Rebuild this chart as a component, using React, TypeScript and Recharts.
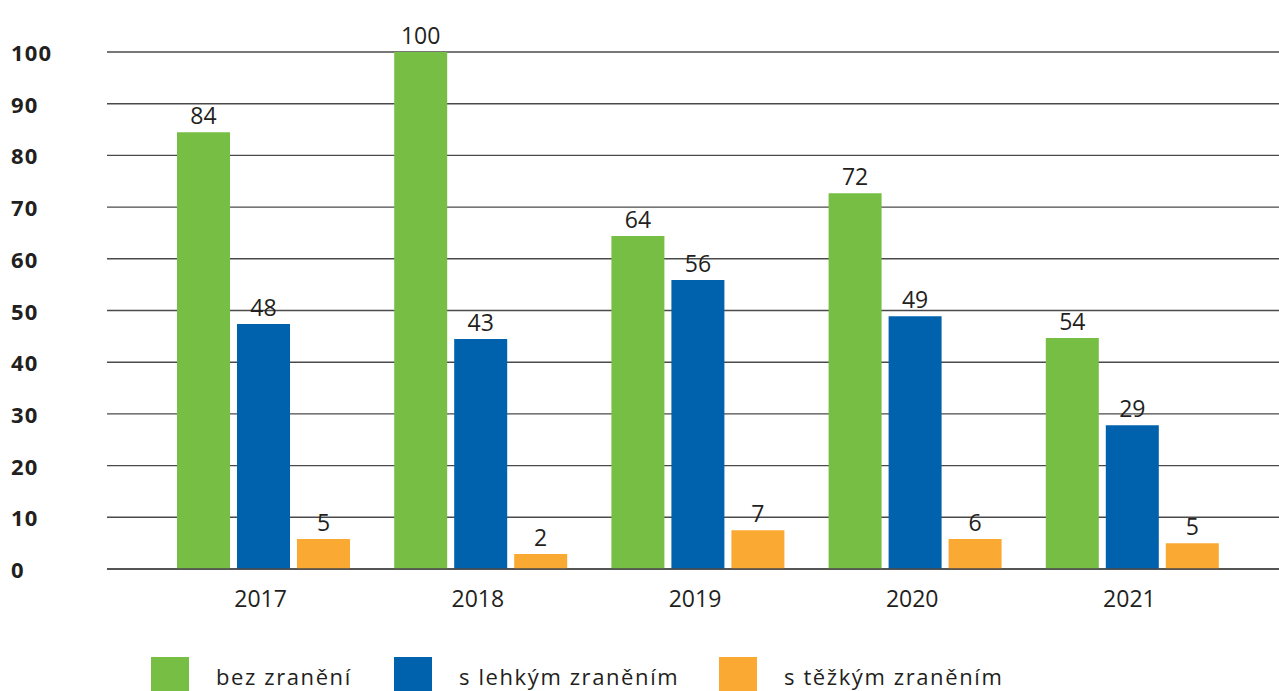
import React from "react";
import {
  BarChart,
  Bar,
  XAxis,
  YAxis,
  CartesianGrid,
  LabelList,
} from "recharts";

const years = ["2017", "2018", "2019", "2020", "2021"];

// bar heights as drawn
const bezZraneni = [84.5, 100, 64.4, 72.7, 44.7];
const lehkym = [47.4, 44.5, 55.9, 48.9, 27.8];
const tezkym = [5.8, 2.9, 7.5, 5.8, 5.0];

// printed labels above the bars
const bezZraneniLabels = [84, 100, 64, 72, 54];
const lehkymLabels = [48, 43, 56, 49, 29];
const tezkymLabels = [5, 2, 7, 6, 5];

const yTicks = [0, 10, 20, 30, 40, 50, 60, 70, 80, 90, 100];

const SERIES = [
  { key: "bez", label: "bez zranění", color: "#77BF44" },
  { key: "lehke", label: "s lehkým zraněním", color: "#0062AC" },
  { key: "tezke", label: "s těžkým zraněním", color: "#FAAA33" },
];

const FONT = "'Open Sans', sans-serif";
const TEXT = "#231f20";
const GRID = "#4a4a4a";

const data = years.map((year, i) => ({
  year,
  bez: bezZraneni[i],
  lehke: lehkym[i],
  tezke: tezkym[i],
  bezLabel: bezZraneniLabels[i],
  lehkeLabel: lehkymLabels[i],
  tezkeLabel: tezkymLabels[i],
}));

function YTick({ y, payload }: any) {
  return (
    <text
      x={11}
      y={y}
      dominantBaseline="central"
      fill={TEXT}
      fontSize={22}
      fontWeight={700}
      letterSpacing={1.2}
      fontFamily={FONT}
    >
      {payload.value}
    </text>
  );
}

// legend item widths so squares line up with the original
const legendWidths = [243, 325, 300];

export default function App() {
  return (
    <div
      style={{
        position: "relative",
        width: 1279,
        height: 691,
        overflow: "hidden",
        background: "#fff",
        fontFamily: FONT,
      }}
    >
      <style>{`body { margin: 0; }`}</style>
      <BarChart
        width={1279}
        height={691}
        data={data}
        margin={{ top: 52, right: 0, left: 0, bottom: 82 }}
        barSize={53}
        barGap={7}
      >
        <CartesianGrid vertical={false} stroke={GRID} strokeWidth={1.4} />
        <XAxis
          dataKey="year"
          height={40}
          padding={{ left: 48, right: 38 }}
          tickLine={false}
          tickMargin={16}
          axisLine={{ stroke: GRID, strokeWidth: 1.4 }}
          tick={{ fill: TEXT, fontSize: 23, fontFamily: FONT, dx: -3 }}
        />
        <YAxis
          width={107}
          domain={[0, 100]}
          ticks={yTicks}
          axisLine={false}
          tickLine={false}
          tick={<YTick />}
        />
        {SERIES.map((s) => (
          <Bar
            key={s.key}
            dataKey={s.key}
            fill={s.color}
            isAnimationActive={false}
          >
            <LabelList
              dataKey={`${s.key}Label`}
              position="top"
              offset={8}
              fill={TEXT}
              fontSize={23}
              fontFamily={FONT}
            />
          </Bar>
        ))}
      </BarChart>

      {/* legend */}
      <div
        style={{
          position: "absolute",
          left: 151,
          top: 657,
          display: "flex",
          alignItems: "flex-start",
          color: TEXT,
          fontSize: 22,
          letterSpacing: 1.6,
          whiteSpace: "nowrap",
        }}
      >
        {SERIES.map((s, i) => (
          <div
            key={s.key}
            style={{
              display: "flex",
              alignItems: "flex-start",
              width: legendWidths[i],
            }}
          >
            <div
              style={{
                width: 38,
                height: 40,
                background: s.color,
                marginRight: 27,
                flexShrink: 0,
              }}
            />
            <span style={{ lineHeight: "22px", marginTop: 8 }}>{s.label}</span>
          </div>
        ))}
      </div>
    </div>
  );
}
